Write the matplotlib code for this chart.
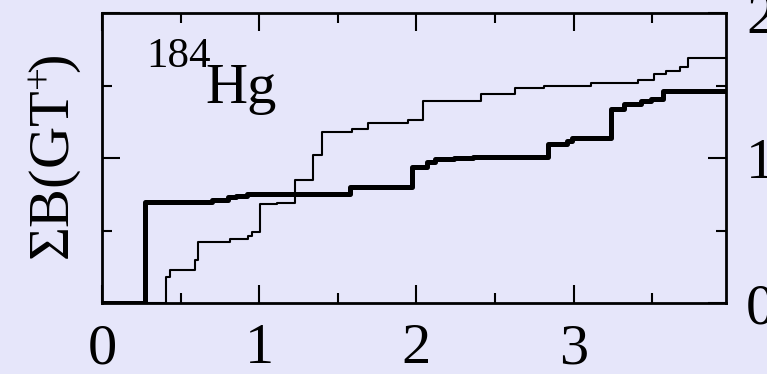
import matplotlib.pyplot as plt
from matplotlib.ticker import MultipleLocator

plt.rcParams['font.family'] = ['Liberation Serif', 'DejaVu Serif']
plt.rcParams['mathtext.fontset'] = 'custom'
plt.rcParams['mathtext.rm'] = 'Liberation Serif'
plt.rcParams['mathtext.it'] = 'Liberation Serif:italic'

# thick line (cumulative strength, steps)
e_thick = [0, 0.274, 0.70, 0.80, 0.85, 0.92, 1.58, 1.97, 2.07, 2.12, 2.24, 2.36,
           2.84, 2.96, 2.99, 3.24, 3.32, 3.43, 3.49, 3.57, 3.97]
b_thick = [0, 0.70, 0.71, 0.73, 0.74, 0.75, 0.80, 0.94, 0.97, 0.99, 1.00, 1.01,
           1.10, 1.12, 1.14, 1.34, 1.37, 1.39, 1.41, 1.46, 1.46]

# thin line
e_thin = [0, 0.41, 0.43, 0.59, 0.61, 0.815, 0.93, 0.955, 1.005, 1.115, 1.23, 1.345,
          1.40, 1.59, 1.69, 1.95, 2.04, 2.41, 2.63, 2.81, 3.04, 3.11, 3.41, 3.51,
          3.59, 3.68, 3.73, 3.97]
b_thin = [0, 0.18, 0.23, 0.30, 0.42, 0.44, 0.46, 0.49, 0.68, 0.69, 0.85, 1.02,
          1.18, 1.20, 1.24, 1.26, 1.39, 1.44, 1.48, 1.50, 1.50, 1.52, 1.54, 1.58,
          1.60, 1.63, 1.69, 1.69]

bg = '#E6E6FA'
fig = plt.figure(figsize=(7.67, 3.74), dpi=100, facecolor=bg)
ax = fig.add_axes([102/767, 1-303/374, 624/767, 290/374], facecolor=bg)

ax.plot(e_thin, b_thin, drawstyle='steps-post', color='black', lw=1.5)
ax.plot(e_thick, b_thick, drawstyle='steps-post', color='black', lw=3.6)

ax.set_xlim(0, 3.97)
ax.set_ylim(0, 2)
ax.xaxis.set_major_locator(MultipleLocator(1))
ax.xaxis.set_minor_locator(MultipleLocator(0.5))
ax.yaxis.set_major_locator(MultipleLocator(1))
ax.yaxis.set_minor_locator(MultipleLocator(0.5))

for s in ax.spines.values():
    s.set_linewidth(2.0)
ax.tick_params(which='both', direction='in', top=True, right=True, width=1.5,
               labelleft=False, labelright=True, labelsize=42, pad=14.5)
ax.tick_params(which='major', length=13)
ax.tick_params(which='minor', length=7)

fig.text(55/767, 1-158/374, r'$\mathrm{\Sigma B(GT^{+}\!)}$', rotation=90,
         ha='center', va='center', fontsize=42)
fig.text(146/767, 1-67/374, '184', ha='left', va='baseline', fontsize=31)
fig.text(205/767, 1-103/374, 'Hg', ha='left', va='baseline', fontsize=42)

fig.savefig('out.png', dpi=100, facecolor=bg)
